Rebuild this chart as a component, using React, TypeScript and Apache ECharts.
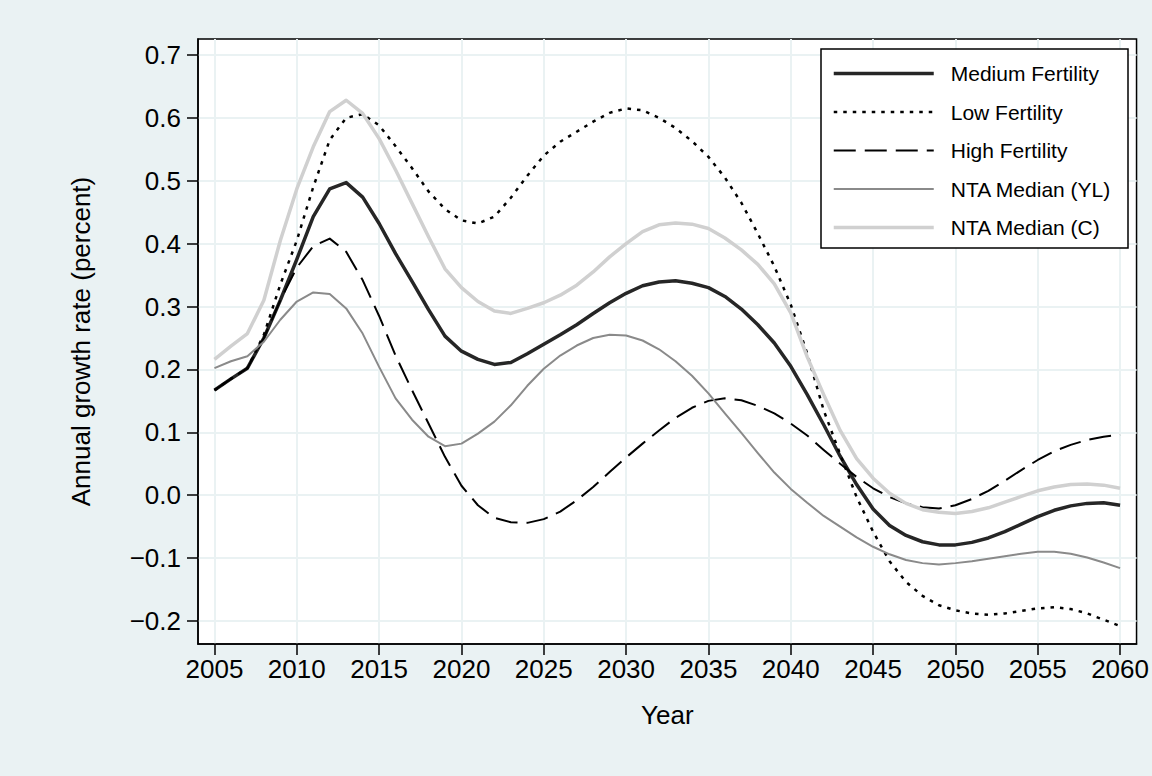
import React, { useEffect, useRef } from 'react';
import * as echarts from 'echarts';

const years = [
  2005, 2006, 2007, 2008, 2009, 2010, 2011, 2012, 2013, 2014,
  2015, 2016, 2017, 2018, 2019, 2020, 2021, 2022, 2023, 2024,
  2025, 2026, 2027, 2028, 2029, 2030, 2031, 2032, 2033, 2034,
  2035, 2036, 2037, 2038, 2039, 2040, 2041, 2042, 2043, 2044,
  2045, 2046, 2047, 2048, 2049, 2050, 2051, 2052, 2053, 2054,
  2055, 2056, 2057, 2058, 2059, 2060,
];

const mediumFertility = [
  0.167, 0.185, 0.202, 0.25, 0.31, 0.375, 0.443, 0.487, 0.497, 0.474,
  0.432, 0.384, 0.34, 0.295, 0.253, 0.229, 0.216, 0.208, 0.211, 0.225,
  0.24, 0.255, 0.271, 0.289, 0.306, 0.321, 0.333, 0.339, 0.341, 0.337,
  0.33, 0.316, 0.296, 0.271, 0.242, 0.205, 0.16, 0.112, 0.062, 0.017,
  -0.022, -0.048, -0.064, -0.074, -0.079, -0.079, -0.075, -0.068, -0.058, -0.046,
  -0.034, -0.024, -0.017, -0.013, -0.012, -0.016,
];

const lowFertility = [
  0.167, 0.185, 0.202, 0.255, 0.335, 0.405, 0.49, 0.565, 0.6, 0.606,
  0.588, 0.555, 0.52, 0.483, 0.455, 0.437, 0.432, 0.443, 0.473, 0.508,
  0.54, 0.562, 0.578, 0.594, 0.608, 0.615, 0.612, 0.6, 0.584, 0.563,
  0.538, 0.505, 0.465, 0.416, 0.364, 0.303, 0.225, 0.135, 0.065, -0.003,
  -0.058, -0.105, -0.138, -0.16, -0.175, -0.183, -0.188, -0.19, -0.188, -0.184,
  -0.18, -0.178, -0.181, -0.188, -0.198, -0.208,
];

const highFertility = [
  0.167, 0.185, 0.202, 0.25, 0.31, 0.362, 0.396, 0.408, 0.387, 0.342,
  0.285, 0.222, 0.167, 0.114, 0.061, 0.015, -0.016, -0.036, -0.043, -0.044,
  -0.038, -0.026, -0.008, 0.013, 0.037, 0.06, 0.082, 0.103, 0.123, 0.139,
  0.15, 0.154, 0.151, 0.142, 0.13, 0.114, 0.095, 0.072, 0.05, 0.029,
  0.011, -0.003, -0.013, -0.019, -0.021, -0.016, -0.006, 0.007, 0.023, 0.04,
  0.056, 0.07, 0.08, 0.088, 0.093, 0.096,
];

const ntaMedianYL = [
  0.202, 0.213, 0.221, 0.244, 0.279, 0.308, 0.3225, 0.32, 0.297, 0.257,
  0.204, 0.154, 0.12, 0.093, 0.078, 0.082, 0.098, 0.117, 0.143, 0.174,
  0.201, 0.222, 0.238, 0.25, 0.255, 0.254, 0.246, 0.232, 0.213, 0.19,
  0.162, 0.13, 0.099, 0.067, 0.036, 0.01, -0.012, -0.033, -0.05, -0.067,
  -0.082, -0.094, -0.103, -0.108, -0.11, -0.108, -0.105, -0.101, -0.097, -0.093,
  -0.09, -0.09, -0.093, -0.099, -0.107, -0.116,
];

const ntaMedianC = [
  0.216, 0.237, 0.257, 0.31, 0.405, 0.487, 0.554, 0.61, 0.628, 0.607,
  0.567, 0.517, 0.464, 0.411, 0.36, 0.33, 0.308, 0.293, 0.289, 0.297,
  0.306, 0.318, 0.334, 0.355, 0.379, 0.4, 0.419, 0.43, 0.433, 0.431,
  0.424, 0.409, 0.39, 0.367, 0.336, 0.29, 0.22, 0.16, 0.103, 0.058,
  0.027, 0.003, -0.013, -0.023, -0.027, -0.029, -0.026, -0.02, -0.011, -0.002,
  0.007, 0.013, 0.017, 0.018, 0.016, 0.011,
];

const xTicks = [2005, 2010, 2015, 2020, 2025, 2030, 2035, 2040, 2045, 2050, 2055, 2060];
const yTicks = [-0.2, -0.1, 0, 0.1, 0.2, 0.3, 0.4, 0.5, 0.6, 0.7];

const seriesNames = [
  'Medium Fertility',
  'Low Fertility',
  'High Fertility',
  'NTA Median (YL)',
  'NTA Median (C)',
];

export default function App() {
  const ref = useRef<HTMLDivElement>(null);

  useEffect(() => {
    if (!ref.current) return;
    const chart = echarts.init(ref.current, null, { renderer: 'svg' });
    const font = '"Liberation Sans", Arial, Helvetica, sans-serif';
    const pairs = (arr: number[]) => years.map((y, i) => [y, arr[i]]);
    const gridColor = '#eaf2f3';

    const styles = [
      { color: '#262626', width: 3.5, type: 'solid' as any },
      { color: '#000000', width: 2.5, type: [3.5, 6] as any },
      { color: '#000000', width: 2, type: [22, 9] as any },
      { color: '#8a8a8a', width: 2, type: 'solid' as any },
      { color: '#d0d0d0', width: 3.5, type: 'solid' as any },
    ];
    const data = [mediumFertility, lowFertility, highFertility, ntaMedianYL, ntaMedianC];

    chart.setOption({
      animation: false,
      backgroundColor: '#eaf2f3',
      textStyle: { fontFamily: font },
      grid: {
        left: 198,
        top: 39,
        right: 15,
        bottom: 132,
        show: true,
        backgroundColor: '#ffffff',
        borderColor: '#000000',
        borderWidth: 1.5,
        containLabel: false,
      },
      xAxis: {
        type: 'value',
        min: 2004,
        max: 2061,
        name: 'Year',
        nameLocation: 'middle',
        nameGap: 58,
        nameTextStyle: { fontSize: 26, color: '#000', fontFamily: font },
        axisLine: { show: true, onZero: false, lineStyle: { color: '#000', width: 1.5 } },
        axisTick: {
          show: true,
          length: 11,
          lineStyle: { color: '#000', width: 1.5 },
          customValues: xTicks,
        },
        axisLabel: {
          show: true,
          margin: 12,
          fontSize: 26,
          color: '#000',
          fontFamily: font,
          customValues: xTicks,
          formatter: (v: number) => String(v),
        },
        splitLine: { show: true, lineStyle: { color: gridColor, width: 2 } },
      },
      yAxis: {
        type: 'value',
        min: -0.2366,
        max: 0.7254,
        name: 'Annual growth rate (percent)',
        nameLocation: 'middle',
        nameGap: 104,
        nameTextStyle: { fontSize: 26, color: '#000', fontFamily: font },
        axisLine: { show: true, onZero: false, lineStyle: { color: '#000', width: 1.5 } },
        axisTick: {
          show: true,
          length: 11,
          lineStyle: { color: '#000', width: 1.5 },
          customValues: yTicks,
        },
        axisLabel: {
          show: true,
          margin: 17,
          fontSize: 26,
          color: '#000',
          fontFamily: font,
          customValues: yTicks,
          formatter: (v: number) => {
            const r = Math.round(v * 10) / 10;
            return (r < 0 ? '\u2212' : '') + Math.abs(r).toFixed(1);
          },
        },
        splitLine: { show: true, lineStyle: { color: gridColor, width: 2 } },
      },
      legend: {
        show: true,
        orient: 'vertical',
        left: 832,
        top: 63,
        padding: 0,
        itemWidth: 100,
        itemHeight: 20,
        itemGap: 17.5,
        z: 10,
        data: seriesNames.map((name, i) => ({
          name,
          lineStyle: {
            color: styles[i].color,
            width: styles[i].width,
            type: styles[i].type,
          },
        })),
        itemStyle: { opacity: 0, borderWidth: 0 },
        textStyle: {
          fontSize: 21,
          color: '#000',
          fontFamily: font,
          padding: [0, 0, 0, 12],
        },
      },
      graphic: [
        {
          type: 'rect',
          z: 9,
          shape: { x: 821, y: 49, width: 307, height: 199 },
          style: { fill: '#ffffff', stroke: '#000000', lineWidth: 1.5 },
          silent: true,
        },
      ],
      series: seriesNames.map((name, i) => ({
        name,
        type: 'line',
        data: pairs(data[i]),
        symbol: 'none',
        showSymbol: false,
        smooth: false,
        z: 2 + i * 0.01,
        lineStyle: {
          color: styles[i].color,
          width: styles[i].width,
          type: styles[i].type,
          cap: 'butt',
          join: 'round',
        },
        itemStyle: { color: styles[i].color },
      })),
    });

    return () => chart.dispose();
  }, []);

  return (
    <div
      ref={ref}
      style={{ position: 'fixed', left: 0, top: 0, width: 1152, height: 776 }}
    />
  );
}
